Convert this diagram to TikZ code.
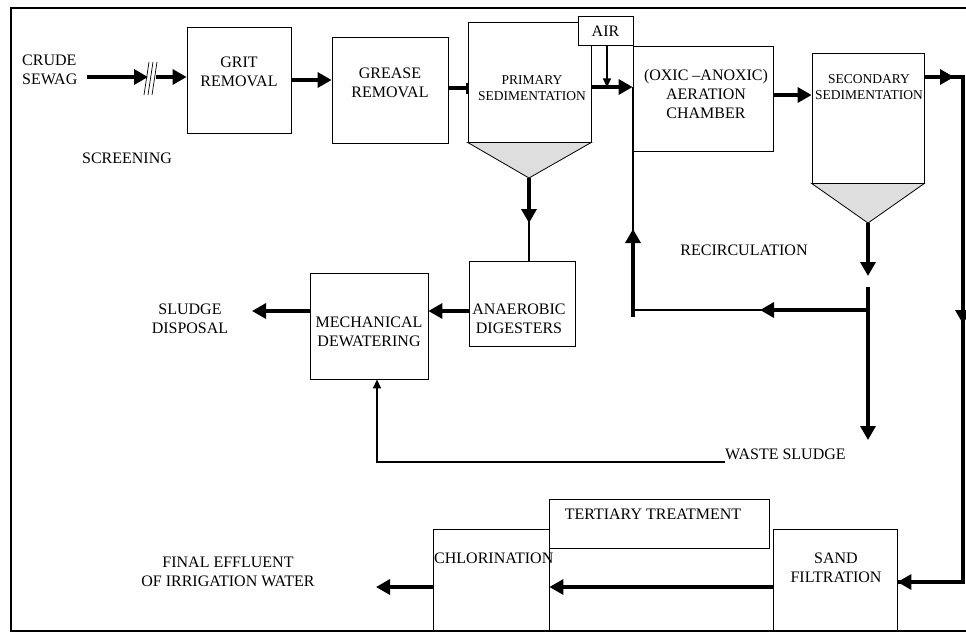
\documentclass[tikz,border=0pt]{standalone}
\usepackage{fontspec}
\setmainfont{Liberation Serif}
\usetikzlibrary{arrows.meta,calc}
\begin{document}
\begin{tikzpicture}[x=1pt,y=-1pt,
  box/.style={draw,line width=0.8pt,inner sep=0pt},
  lbl/.style={inner sep=0pt,align=center,font=\fontsize{16}{18.8}\selectfont},
  sml/.style={inner sep=0pt,align=center,font=\fontsize{13.5}{16}\selectfont},
  thk/.style={line width=3.3pt},
  thn/.style={line width=1.3pt},
  bigtip/.style={-{Triangle[length=14pt,width=15pt]}},
  smltip/.style={-{Triangle[length=9pt,width=8pt]}},
  frame/.style={line width=2.8pt}
]
\useasboundingbox (0,0) rectangle (966,633);
% frame
\draw[frame] (966,8) -- (11,8) -- (11,631) -- (966,631);

% boxes
\node[box,minimum width=104pt,minimum height=106pt] (grit) at (239,80) {};
\node[box,minimum width=116pt,minimum height=106pt] (grease) at (390,90) {};
\node[box,minimum width=123pt,minimum height=120pt] (prim) at (529.5,82) {};
\node[box,fill=white,minimum width=55pt,minimum height=29pt] (air) at (605.5,30.5) {};
\node[box,minimum width=140pt,minimum height=105pt] (aer) at (703,98.5) {};
\node[box,minimum width=112pt,minimum height=130pt] (sec) at (868,118) {};
\node[box,minimum width=106pt,minimum height=85pt] (anaer) at (522,303.5) {};
\node[box,minimum width=118pt,minimum height=106pt] (mech) at (369,326) {};
\node[box,minimum width=116pt,minimum height=102pt] (chl) at (491,580) {};
\node[box,minimum width=124pt,minimum height=102pt] (sand) at (835,580) {};
\node[box,minimum width=220pt,minimum height=49pt] (tert) at (659,523.5) {};

% hoppers
\draw[line width=0.8pt,fill=black!13] (prim.south west) -- (prim.south east) -- (529,178) coordinate (pa) -- cycle;
\draw[line width=0.8pt,fill=black!13] (sec.south west) -- (sec.south east) -- (868,223) coordinate (sa) -- cycle;

% box texts
\node[lbl] (tgrit) at (239,72) {GRIT\\REMOVAL};
\node[lbl] (tgrease) at (390,83) {GREASE\\REMOVAL};
\node[sml] (tprim) at (532,88) {PRIMARY\\SEDIMENTATION};
\node[lbl] (tair) at (605.5,31) {AIR};
\node[lbl] (taer) at (706,94) {(OXIC –ANOXIC)\\AERATION\\CHAMBER};
\node[sml] (tsec) at (869,87) {SECONDARY\\SEDIMENTATION};
\node[lbl] (tanaer) at (519,319) {ANAEROBIC\\DIGESTERS};
\node[lbl] (tmech) at (369,332) {MECHANICAL\\DEWATERING};
\node[lbl,anchor=west] (tchl) at (434,558) {CHLORINATION};
\node[lbl] (tsand) at (836,568) {SAND\\FILTRATION};
\node[lbl] (ttert) at (653,514) {TERTIARY TREATMENT};

% free labels
\node[lbl,align=left,anchor=west] (tcrude) at (22,70) {CRUDE\\SEWAG};
\node[lbl] (tscr) at (127,158) {SCREENING};
\node[lbl] (tsd) at (190,319) {SLUDGE\\DISPOSAL};
\node[lbl] (trec) at (744,250) {RECIRCULATION};
\node[lbl,anchor=west] (tws) at (725,454) {WASTE SLUDGE};
\node[lbl] (tfin) at (228,572) {FINAL EFFLUENT\\OF IRRIGATION WATER};

% screening
\coordinate (cs) at (87,77);
\coordinate (scr) at (148,77);
\draw[thk,bigtip] (cs) -- (scr);
\draw[line width=0.7pt] (144,95) -- (149,62) (148,95) -- (153,62) (152,95) -- (157,62);
\draw[thk,bigtip] (156,77) -- (grit.west |- 0,77);

% main line
\draw[thk,bigtip] (grit.east) -- (grease.west |- grit.east);
\draw[thk,-{Bar[width=11pt,line width=1.6pt]}] (grease.east |- 0,88) -- (prim.west |- 0,88);
\draw[thk,bigtip] (prim.east |- 0,87) -- (aer.west |- 0,87);
\draw[thn,smltip] ([xshift=1.5pt]air.south) -- ++(0,42);
\draw[thk,bigtip] (aer.east |- 0,95) -- (sec.west |- 0,95);

% secondary effluent
\coordinate (rtop) at (963,77);
\coordinate (rbot) at (963,582);
\draw[thk] (sec.east |- rtop) -- (rtop) -- (rbot) -- (sand.east |- rbot);
\draw[thk,bigtip] (sec.east |- rtop) -- (954,77);
\draw[thk,bigtip] (rtop) -- (963,324);
\draw[thk,bigtip] (rbot) -- (sand.east |- rbot);

% tertiary
\draw[thk,bigtip] (sand.west |- 0,587) -- (chl.east |- 0,587);
\draw[thk,bigtip] (chl.west |- 0,587) -- (376,587);

% primary sludge
\draw[thk,bigtip] (pa) -- (529,223);
\draw[thn] (529,215) -- (529,0 |- anaer.north);
\draw[thk,bigtip] (anaer.west |- 0,311) -- (mech.east |- 0,311);
\draw[thk,bigtip] (mech.west |- 0,311) -- (252,311);

% secondary sludge
\coordinate (jn) at (868,310);
\draw[thk,bigtip] (sa) -- (868,276);
\draw[thk,bigtip] (868,287) -- (868,440);
\draw[thk,bigtip] (jn) -- (760,310);
\draw[thn] (762,310) -- (633,310);
\draw[thk,bigtip] (633,317) -- (633,229);
\draw[thn] (633,235) -- (633,87);

% waste sludge
\coordinate (wsl) at (725,462);
\draw[thn,smltip] (wsl) -- (377,462) -- (377,0 |- mech.south);
\end{tikzpicture}
\end{document}
